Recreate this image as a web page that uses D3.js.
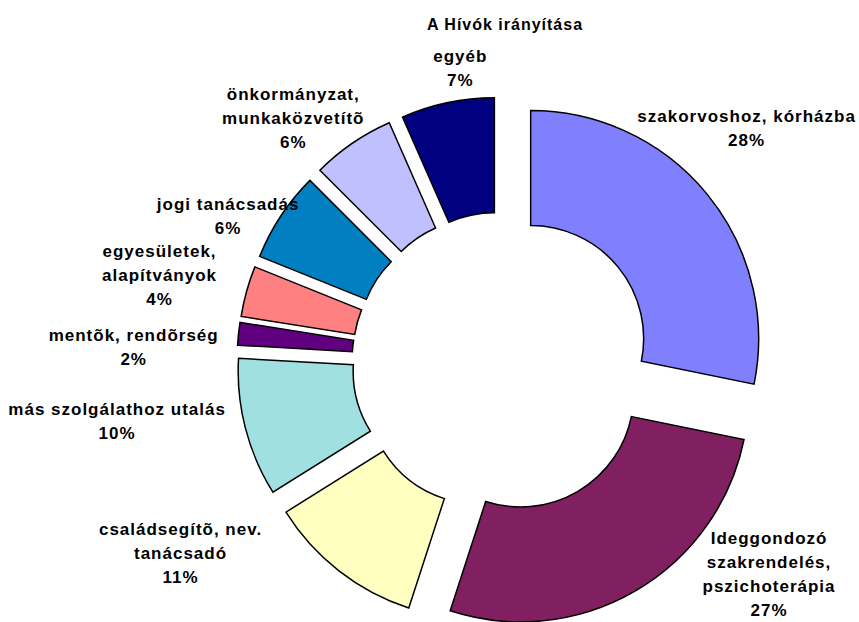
<!DOCTYPE html>
<html>
<head>
<meta charset="utf-8">
<script src="https://cdn.jsdelivr.net/npm/d3@7"></script>
<style>
  body { margin: 0; background: #fff; }
  svg text { font-family: "Liberation Sans", Arial, sans-serif; font-weight: bold; fill: #000; }
</style>
</head>
<body>
<div id="chart"></div>
<script>
// adatok (az ábráról leolvasva)
const chartTitle = "A Hívók irányítása";
const categories = [
    ["szakorvoshoz, kórházba"],
    ["Ideggondozó", "szakrendelés,", "pszichoterápia"],
    ["családsegítõ, nev.", "tanácsadó"],
    ["más szolgálathoz utalás"],
    ["mentõk, rendõrség"],
    ["egyesületek,", "alapítványok"],
    ["jogi tanácsadás"],
    ["önkormányzat,", "munkaközvetítõ"],
    ["egyéb"]
];
const values = [28.2, 26.8, 11.1, 9.8, 1.6, 3.6, 6.4, 5.9, 6.6];
const colors = ["#8080FF", "#802060", "#FFFFC0", "#A0E0E0", "#600080",
                "#FF8080", "#0080C0", "#C0C0FF", "#000080"];

// címkék eltolása a sugárirányú helyzethez képest
const labelNudge = [[20, -50], [121, -38], [-143, -37], [-104, -13], [-80, 16],
                    [-63, -9], [-32, 14], [-45, -4], [18, -10]];

const width = 859, height = 622;
const cx = 502, cy = 362;
const outerR = 228, innerR = 113, explode = 37;
const labelR = 290, lineH = 24;

const svg = d3.select("#chart").append("svg")
    .attr("width", width)
    .attr("height", height);

const total = d3.sum(values);
const pct = v => Math.round(v / total * 100) + "%";

const pie = d3.pie().sort(null).value(d => d)(values);
const arc = d3.arc().innerRadius(innerR).outerRadius(outerR);

const g = svg.append("g").attr("transform", `translate(${cx},${cy})`);

// szeletek (mind kiemelve)
g.selectAll("path")
    .data(pie)
    .join("path")
    .attr("d", arc)
    .attr("transform", d => {
        const a = (d.startAngle + d.endAngle) / 2;
        return `translate(${explode * Math.sin(a)},${-explode * Math.cos(a)})`;
    })
    .attr("fill", (d, i) => colors[i])
    .attr("stroke", "#000")
    .attr("stroke-width", 1.5)
    .attr("stroke-linejoin", "miter");

// címkék
pie.forEach((d, i) => {
    const a = (d.startAngle + d.endAngle) / 2;
    const lines = categories[i].concat([pct(d.data)]);
    const ax = labelR * Math.sin(a) + labelNudge[i][0];
    const ay = -labelR * Math.cos(a) - (lines.length - 1) * lineH / 2 + 5.5 + labelNudge[i][1];
    const t = g.append("text")
        .attr("text-anchor", "middle")
        .attr("font-size", 17)
        .attr("letter-spacing", 1);
    lines.forEach((s, k) => {
        t.append("tspan").attr("x", ax).attr("y", ay + k * lineH).text(s);
    });
});

// cím
svg.append("text")
    .attr("x", 505)
    .attr("y", 30)
    .attr("text-anchor", "middle")
    .attr("font-size", 16)
    .attr("letter-spacing", 1)
    .text(chartTitle);
</script>
</body>
</html>
